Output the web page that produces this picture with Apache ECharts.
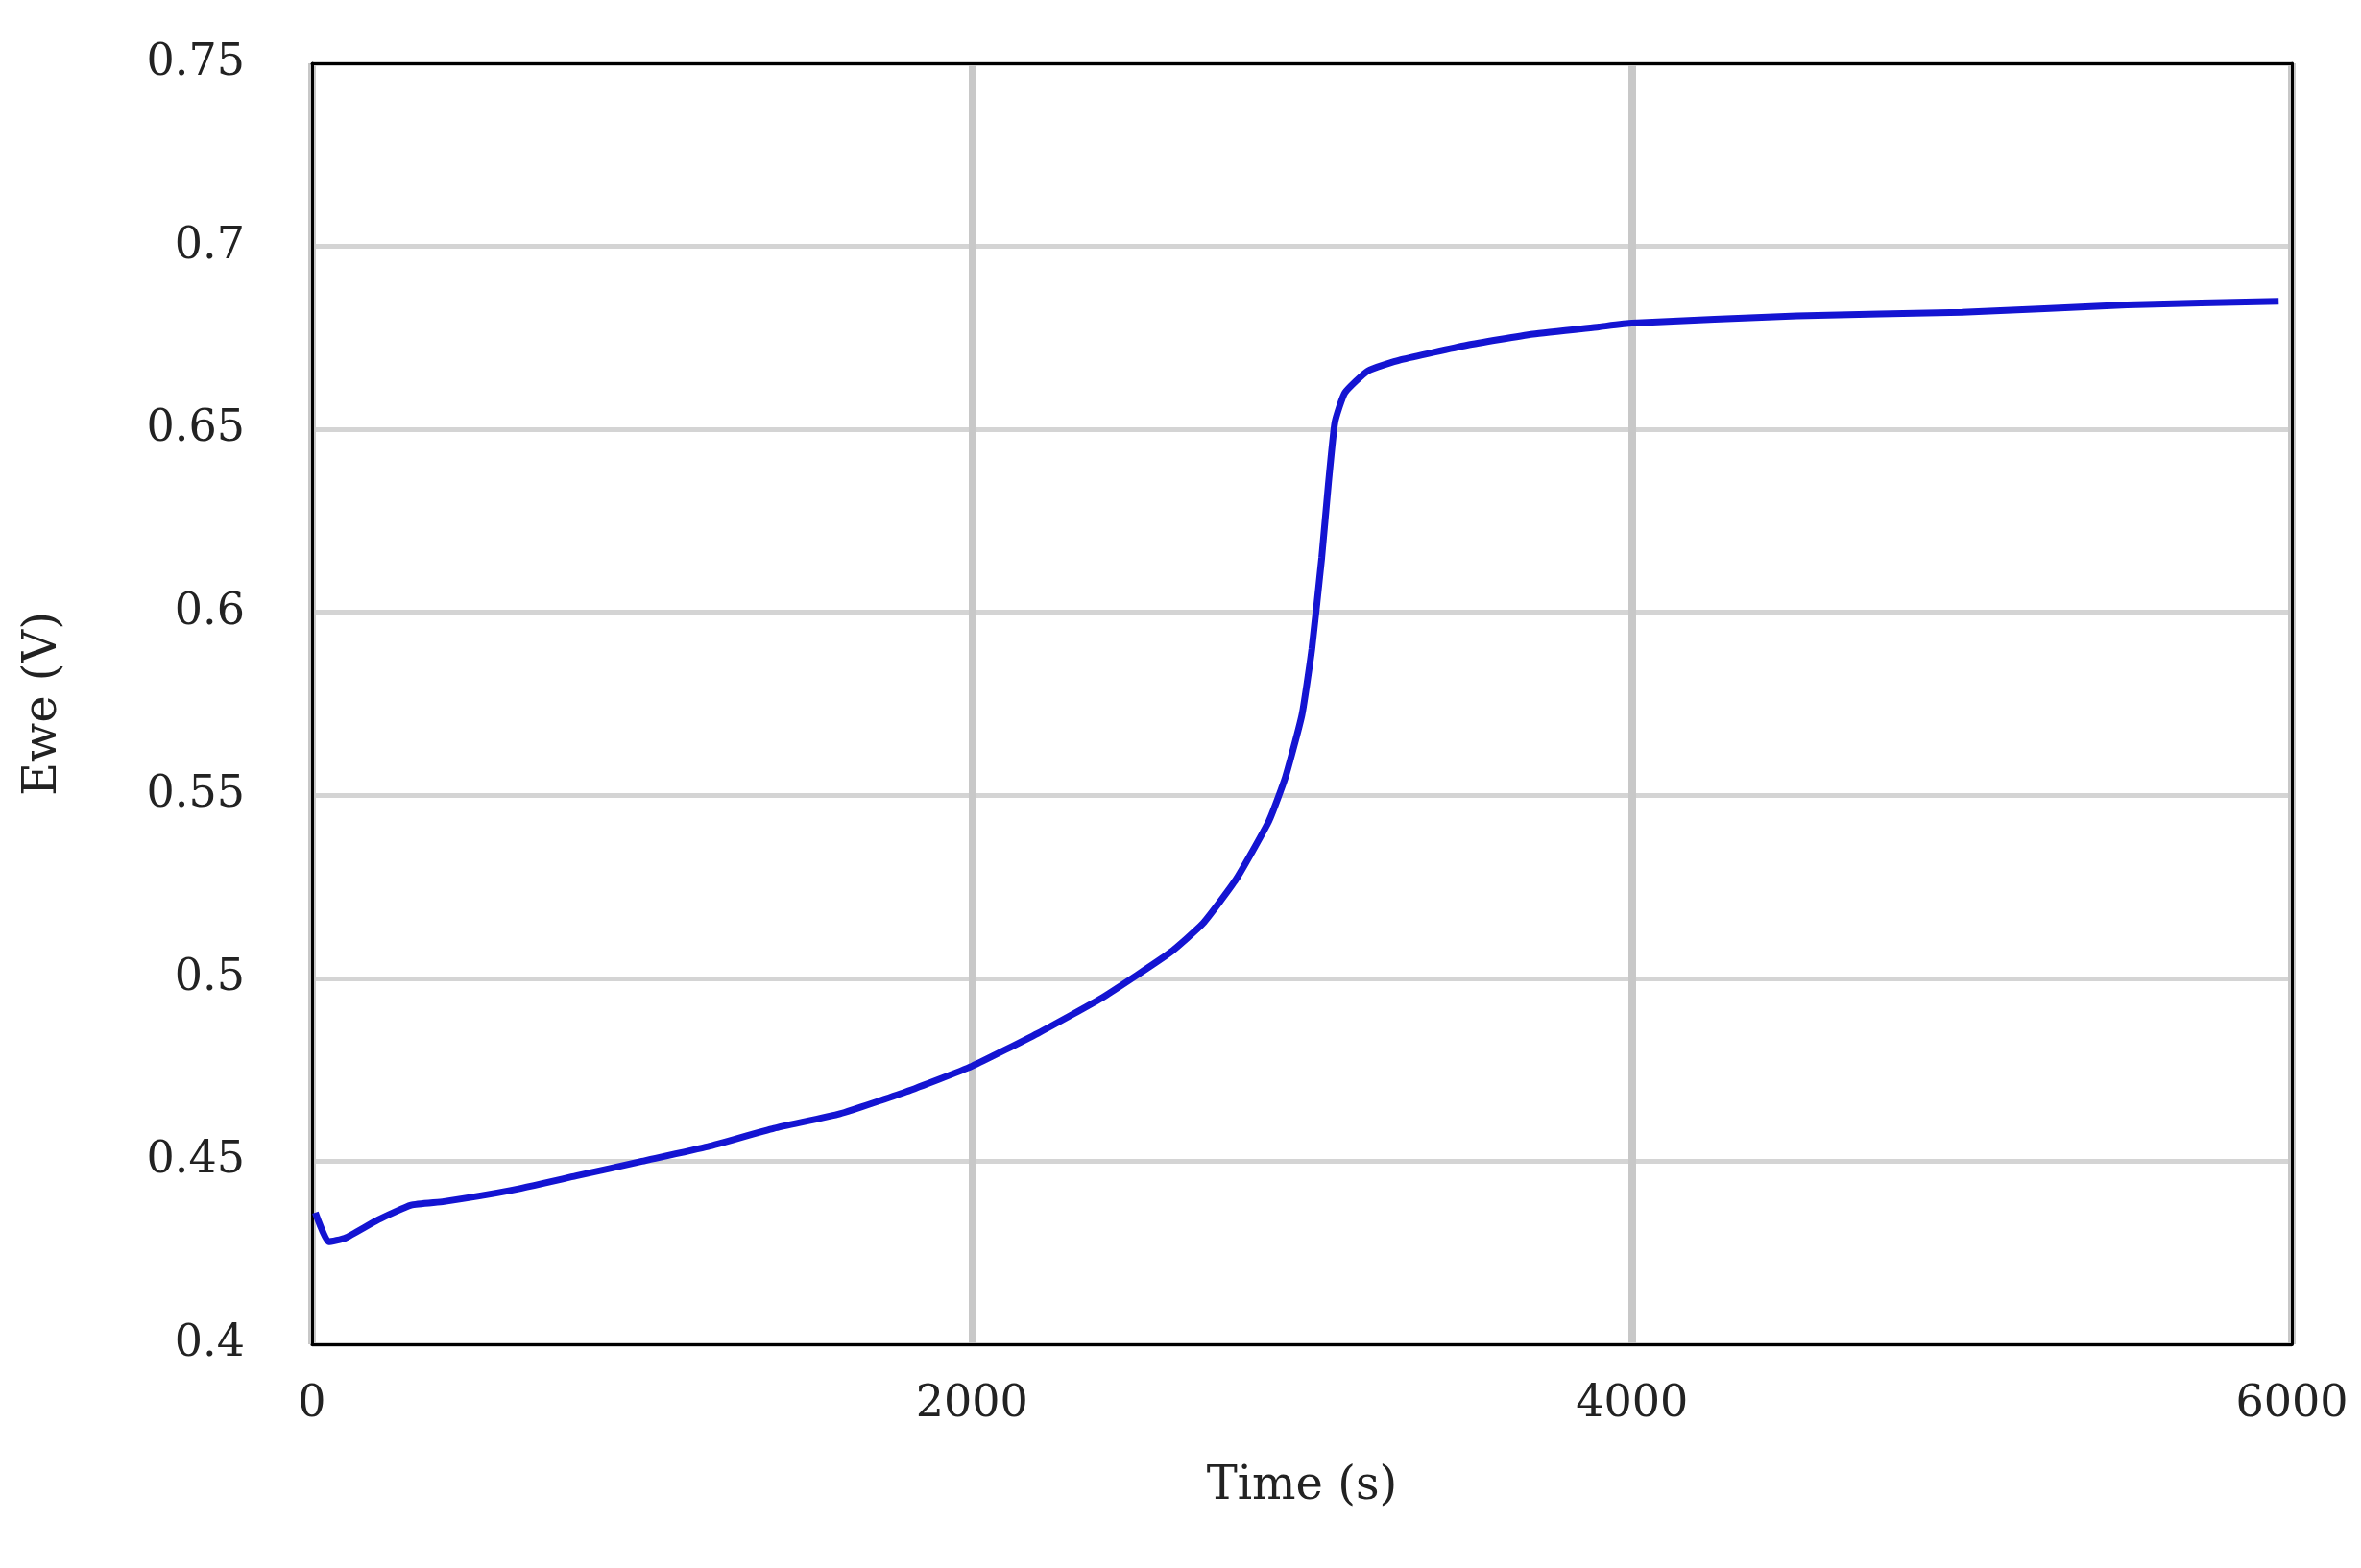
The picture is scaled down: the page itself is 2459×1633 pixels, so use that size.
<!DOCTYPE html>
<html><head><meta charset="utf-8">
<script src="https://cdn.jsdelivr.net/npm/echarts@6/dist/echarts.min.js"></script>
<style>html,body{margin:0;padding:0;background:#fff}#c{width:2459px;height:1633px}</style>
</head><body><div id="c"></div>
<script>
const times = [10,50,100,200,300,400,600,800,1000,1200,1400,1600,1800,2000,2200,2400,2600,2700,2800,2900,2950,3000,3030,3060,3080,3100,3130,3200,3300,3500,3700,3900,4000,4500,5000,5500,5960];
const ewe = [0.436,0.428,0.429,0.434,0.438,0.439,0.442,0.446,0.450,0.454,0.459,0.463,0.469,0.476,0.485,0.495,0.507,0.515,0.527,0.543,0.555,0.572,0.590,0.615,0.635,0.652,0.660,0.666,0.669,0.673,0.676,0.678,0.679,0.681,0.682,0.684,0.685];
const yTicks = [0.4,0.45,0.5,0.55,0.6,0.65,0.7,0.75];
const font = 'DejaVu Serif';
const chart = echarts.init(document.getElementById('c'));
chart.setOption({
  animation:false,
  grid:{left:325,right:72,top:66,bottom:233},
  xAxis:[{type:'value',min:0,max:6000,interval:2000,name:'Time (s)',nameLocation:'middle',nameGap:125,
    nameTextStyle:{fontFamily:font,fontSize:48,color:'#222'},
    axisLine:{lineStyle:{color:'#000',width:3}},axisTick:{show:false},
    axisLabel:{fontFamily:font,fontSize:46,color:'#222',margin:40,formatter:v=>String(v)},
    splitLine:{show:true,lineStyle:{color:'#c8c8c8',width:8}}},
    {type:'value',position:'top',min:0,max:6000,axisLine:{show:true,onZero:false,lineStyle:{color:'#000',width:3}},
    axisTick:{show:false},axisLabel:{show:false},splitLine:{show:false}}],
  yAxis:[{type:'value',min:0.4,max:0.75,interval:0.05,name:'Ewe (V)',nameLocation:'middle',nameGap:255,
    nameTextStyle:{fontFamily:font,fontSize:48,color:'#222'},
    axisLine:{lineStyle:{color:'#000',width:3}},axisTick:{show:false},
    axisLabel:{fontFamily:font,fontSize:46,color:'#222',margin:70,formatter:v=>String(+v.toFixed(2))},
    splitLine:{show:true,lineStyle:{color:'#d4d4d4',width:5}}},
    {type:'value',position:'right',min:0.4,max:0.75,axisLine:{show:true,onZero:false,lineStyle:{color:'#000',width:3}},
    axisTick:{show:false},axisLabel:{show:false},splitLine:{show:false}}],
  series:[{type:'line',data:times.map((t,i)=>[t,ewe[i]]),showSymbol:false,smooth:0.15,
    lineStyle:{color:'#1414d2',width:7}}]
});
</script></body></html>
